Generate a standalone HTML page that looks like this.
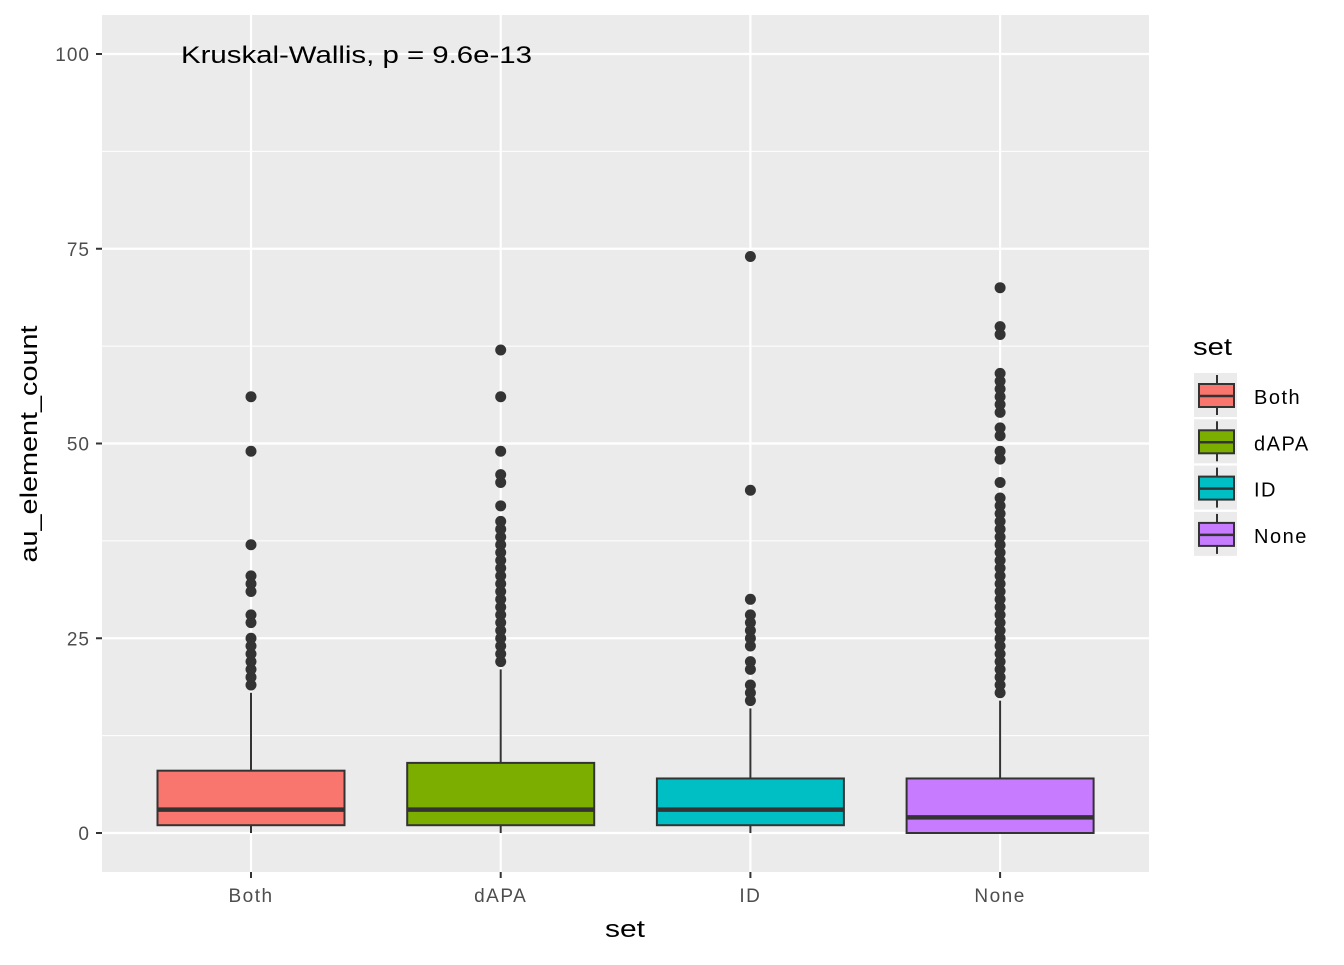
<!DOCTYPE html>
<html><head><meta charset="utf-8"><style>
body{margin:0;background:#fff;font-family:"Liberation Sans",sans-serif}
</style></head><body>
<svg id="chart" width="1344" height="960" xmlns="http://www.w3.org/2000/svg" font-family="Liberation Sans, sans-serif">
<rect x="0" y="0" width="1344" height="960" fill="#fff"/>
<rect x="102" y="15" width="1047" height="857" fill="#ebebeb"/>
<g id="grid"></g>
<g id="marks"></g>
<g id="axes"></g>
<text x="181" y="63" font-size="24" fill="#000" textLength="351" lengthAdjust="spacingAndGlyphs">Kruskal-Wallis, p = 9.6e-13</text>
<text x="625" y="937" font-size="24" text-anchor="middle" fill="#000" textLength="40" lengthAdjust="spacingAndGlyphs">set</text>
<text transform="translate(37,444) rotate(-90)" font-size="24" text-anchor="middle" fill="#000" textLength="237" lengthAdjust="spacingAndGlyphs">au_element_count</text>
<g id="legend">
<text x="1193" y="355" font-size="24" fill="#000" textLength="39" lengthAdjust="spacingAndGlyphs">set</text>
</g>
</svg>
<script>
const categories=["Both","dAPA","ID","None"];
const colors=["#F8766D","#7CAE00","#00BFC4","#C77CFF"];
const q1=[1,1,1,0];
const medians=[3,3,3,2];
const q3=[8,9,7,7];
const whiskerLow=[0,0,0,0];
const whiskerHigh=[18,21,16,17];
const outliers=[
[19,20,21,22,23,24,25,27,28,31,32,33,37,49,56],
[22,23,24,25,26,27,28,29,30,31,32,33,34,35,36,37,38,39,40,42,45,46,49,56,62],
[17,18,19,21,22,24,25,26,27,28,30,44,74],
[18,19,20,21,22,23,24,25,26,27,28,29,30,31,32,33,34,35,36,37,38,39,40,41,42,43,45,48,49,51,52,54,55,56,57,58,59,64,65,70]
];
const yTicks=[0,25,50,75,100];
const NS="http://www.w3.org/2000/svg";
const y=v=>833-v*7.79;
const x=i=>251+i*249.7;
function mk(tag,attrs,parent){const e=document.createElementNS(NS,tag);for(const k in attrs)e.setAttribute(k,attrs[k]);parent.appendChild(e);return e;}
const grid=document.getElementById('grid'),marks=document.getElementById('marks'),axes=document.getElementById('axes'),legend=document.getElementById('legend');
for(let i=0;i<yTicks.length-1;i++){const m=(yTicks[i]+yTicks[i+1])/2;const l=mk('line',{x1:102,x2:1149,y1:y(m),y2:y(m),stroke:'#fff','stroke-width':1.1},grid);

}
yTicks.forEach(t=>{const l=mk('line',{x1:102,x2:1149,y1:y(t),y2:y(t),stroke:'#fff','stroke-width':2.2},grid);


mk('line',{x1:96,x2:102,y1:y(t),y2:y(t),stroke:'#333','stroke-width':2},axes);
const tx=mk('text',{x:90,y:y(t)+7,'font-size':19,'text-anchor':'end',fill:'#4d4d4d','letter-spacing':1},axes);tx.textContent=t;

});
categories.forEach((c,i)=>{const l=mk('line',{x1:x(i),x2:x(i),y1:15,y2:872,stroke:'#fff','stroke-width':2.2},grid);


mk('line',{x1:x(i),x2:x(i),y1:872,y2:878,stroke:'#333','stroke-width':2},axes);
const tx=mk('text',{x:x(i),y:902,'font-size':19,'text-anchor':'middle',fill:'#4d4d4d','letter-spacing':1.5},axes);tx.textContent=c;


const g=mk('g',{},marks);


mk('line',{x1:x(i),x2:x(i),y1:y(whiskerHigh[i]),y2:y(q3[i]),stroke:'#333','stroke-width':2},g);
mk('line',{x1:x(i),x2:x(i),y1:y(q1[i]),y2:y(whiskerLow[i]),stroke:'#333','stroke-width':2},g);
mk('rect',{x:x(i)-93.5,y:y(q3[i]),width:187,height:y(q1[i])-y(q3[i]),fill:colors[i],stroke:'#333','stroke-width':2},g);
mk('line',{x1:x(i)-93.5,x2:x(i)+93.5,y1:y(medians[i]),y2:y(medians[i]),stroke:'#333','stroke-width':4.5},g);
outliers[i].forEach(v=>{const p=mk('circle',{cx:x(i),cy:y(v),r:5.5,fill:'#333'},marks);

});
const ly=396+i*46.3;
const k=mk('g',{},legend);


mk('rect',{x:1194,y:ly-23,width:43,height:44,fill:'#ebebeb'},k);
mk('line',{x1:1217,x2:1217,y1:ly-21,y2:ly+19,stroke:'#333','stroke-width':2},k);
mk('rect',{x:1199,y:ly-12,width:35,height:23,fill:colors[i],stroke:'#333','stroke-width':2},k);
mk('line',{x1:1199,x2:1234,y1:ly,y2:ly,stroke:'#333','stroke-width':2.5},k);
const lt=mk('text',{x:1254,y:ly+8,'font-size':20,fill:'#000','letter-spacing':1.5},k);lt.textContent=c;});
</script>
</body></html>
